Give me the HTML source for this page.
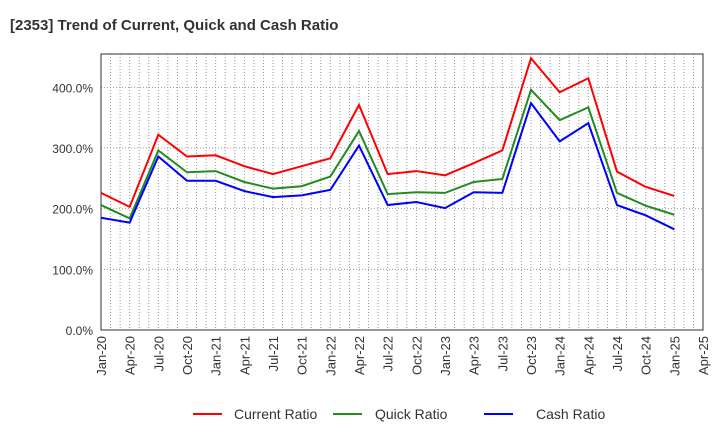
<!DOCTYPE html>
<html><head><meta charset="utf-8"><style>
body{margin:0;background:#fff;font-family:"Liberation Sans",Arial,sans-serif;}
svg text{font-family:"Liberation Sans",Arial,sans-serif;}
</style></head><body>
<svg id="c" width="720" height="440" xmlns="http://www.w3.org/2000/svg">
<text x="10" y="30" font-size="15" font-weight="bold" fill="#333">[2353]  Trend of Current, Quick and Cash Ratio</text>
<g id="grid"></g><g id="axes"></g><g id="series"></g>
<g>
<line x1="193" y1="414" x2="222" y2="414" stroke="#f00" stroke-width="2"/>
<text x="234" y="419" font-size="14" fill="#333">Current Ratio</text>
<line x1="333" y1="414" x2="362" y2="414" stroke="#228b22" stroke-width="2"/>
<text x="375" y="419" font-size="14" fill="#333">Quick Ratio</text>
<line x1="484" y1="414" x2="513" y2="414" stroke="#00f" stroke-width="2"/>
<text x="536" y="419" font-size="14" fill="#333">Cash Ratio</text>
</g>
</svg>
<script>
const categories=["Jan-20","Apr-20","Jul-20","Oct-20","Jan-21","Apr-21","Jul-21","Oct-21","Jan-22","Apr-22","Jul-22","Oct-22","Jan-23","Apr-23","Jul-23","Oct-23","Jan-24","Apr-24","Jul-24","Oct-24","Jan-25","Apr-25"];
const currentRatio=[226,203,322,286,288,270,257,270,283,371,257,262,255,275,296,448,392,415,261,236,221];
const quickRatio=[206,184,296,260,262,244,233,237,253,328,224,227,226,244,249,396,346,367,226,205,190];
const cashRatio=[185,177,286,246,246,229,219,222,231,304,206,211,201,227,226,374,311,341,206,189,166];
const yTicks=[0,100,200,300,400];
const NS="http://www.w3.org/2000/svg";
const L=101,R=703,T=54,B=330,YMAX=455;
const x=i=>L+(R-L)*i/(categories.length-1);
const y=v=>B-(B-T)*v/YMAX;
function mk(tag,attrs,parent){const e=document.createElementNS(NS,tag);for(const k in attrs)e.setAttribute(k,attrs[k]);parent.appendChild(e);return e;}
const grid=document.getElementById('grid'),axes=document.getElementById('axes'),ser=document.getElementById('series');
for(let m=1;m<(categories.length-1)*3;m++){const xx=L+(R-L)*m/((categories.length-1)*3);
const g=mk('line',{x1:xx,x2:xx,y1:T,y2:B,stroke:'#999','stroke-dasharray':'1,2','stroke-width':1},grid);

}
yTicks.forEach(v=>{const g=mk('line',{x1:L,x2:R,y1:y(v),y2:y(v),stroke:'#999','stroke-dasharray':'1,2'},grid);


const t=mk('text',{x:L-8,y:y(v)+5,'text-anchor':'end','font-size':12,fill:'#333'},axes);t.textContent=v.toFixed(1)+'%';

});
const fr=mk('rect',{x:L,y:T,width:R-L,height:B-T,fill:'none',stroke:'#333'},axes);


categories.forEach((c,i)=>{const t=mk('text',{transform:`translate(${x(i)+5},${B+6}) rotate(-90)`,'text-anchor':'end','font-size':13,fill:'#333'},axes);t.textContent=c;

});
[[currentRatio,'#f00','current-ratio-line'],[quickRatio,'#228b22','quick-ratio-line'],[cashRatio,'#00f','cash-ratio-line']].forEach(([d,col,n])=>{
const p=mk('polyline',{points:d.map((v,i)=>x(i)+','+y(v)).join(' '),fill:'none',stroke:col,'stroke-width':2},ser);

});
</script>
</body></html>
